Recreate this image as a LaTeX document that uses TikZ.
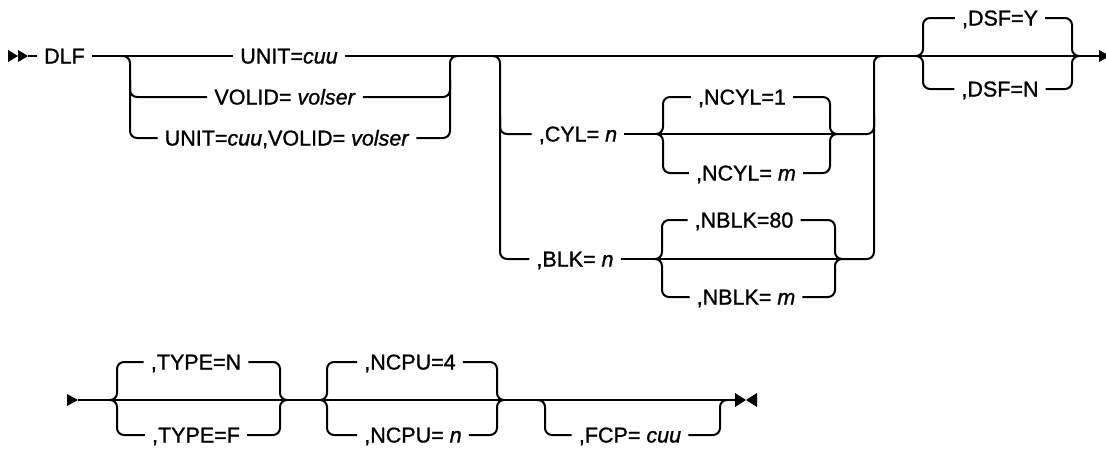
\documentclass[tikz,border=0pt]{standalone}
\usepackage{fontspec}
\setmainfont{Liberation Sans}[FakeBold=1.1]
\usetikzlibrary{calc}

\tikzset{
  rail/.style={line width=2pt, rounded corners=7pt},
  kw/.style={inner xsep=7pt, inner ysep=0pt, text height=15pt, text depth=0pt,
    font=\fontsize{21.5}{25}\selectfont},
}

\begin{document}
\begin{tikzpicture}[x=1pt, y=-1pt]
  \clip (0,0) rectangle (1106,448);

  % \optfork{left cusp}{right cusp}{upper option}{lower option}
  % a curly choice: empty path through the middle, one option above, one below
  \newcommand{\optfork}[4]{%
    \draw[rail] (#1) -- (#2);
    \draw[rail] (#1) -- ++(7,0) |- (#3.west);
    \draw[rail] (#1) -- ++(7,0) |- (#4.west);
    \draw[rail] (#2) -- ++(-7,0) |- (#3.east);
    \draw[rail] (#2) -- ++(-7,0) |- (#4.east);
  }

  % ---------- first line ----------
  \fill (8,50) -- (18,56) -- (8,62) -- cycle;
  \fill (18,50) -- (28,56) -- (18,62) -- cycle;
  \coordinate (begin) at (28,56);
  \node[kw] (dlf) at (64.5,56) {DLF};

  \node[kw] (unit) at (289,56) {UNIT=\textit{cuu}};
  \node[kw] (volid) at (285,97) {VOLID= \textit{volser}};
  \node[kw] (both) at (287,138) {UNIT=\textit{cuu},VOLID= \textit{volser}};

  \draw[rail] (begin) -- (dlf.west);
  \draw[rail] (dlf.east) -- (unit.west);
  \draw[rail] (unit.east) -- (1100,56);
  \draw[rail] (122,56) -| (130,138) -- (both.west);
  \draw[rail] (130,80) |- (volid.west);
  \draw[rail] (both.east) -| (450,56) -- (458,56);
  \draw[rail] (volid.east) -| (450,80);

  % CYL / BLK
  \node[kw] (cyl) at (578,134) {,CYL= \textit{n}};
  \node[kw] (blk) at (575,259) {,BLK= \textit{n}};
  \draw[rail] (492,56) -| (500,259) -- (blk.west);
  \draw[rail] (500,115) |- (cyl.west);

  \coordinate (cylL) at (656,134);
  \coordinate (cylR) at (837,134);
  \node[kw] (ncyl1) at (742,97) {,NCYL=1};
  \node[kw] (ncylm) at (746,173) {,NCYL= \textit{m}};
  \draw[rail] (cyl.east) -- (cylL);
  \optfork{cylL}{cylR}{ncyl1}{ncylm}
  \draw[rail] (cylR) -| (874,115);

  \coordinate (blkL) at (655,259);
  \coordinate (blkR) at (842,259);
  \node[kw] (nblk80) at (744,220) {,NBLK=80};
  \node[kw] (nblkm) at (746,297) {,NBLK= \textit{m}};
  \draw[rail] (blk.east) -- (blkL);
  \optfork{blkL}{blkR}{nblk80}{nblkm}
  \draw[rail] (blkR) -| (874,56) -- (882,56);

  % DSF
  \coordinate (dsfL) at (916,56);
  \coordinate (dsfR) at (1079,56);
  \node[kw] (dsfy) at (1000,18) {,DSF=Y};
  \node[kw] (dsfn) at (1000,89) {,DSF=N};
  \optfork{dsfL}{dsfR}{dsfy}{dsfn}
  \fill (1099,50) -- (1110,56) -- (1099,62) -- cycle;

  % ---------- second line ----------
  \fill (67,394) -- (78,400) -- (67,406) -- cycle;
  \coordinate (resume) at (78,400);

  \coordinate (typeL) at (110,400);
  \coordinate (typeR) at (287,400);
  \node[kw] (typen) at (196,362) {,TYPE=N};
  \node[kw] (typef) at (196,435) {,TYPE=F};
  \draw[rail] (resume) -- (typeL);
  \optfork{typeL}{typeR}{typen}{typef}

  \coordinate (ncpuL) at (320,400);
  \coordinate (ncpuR) at (504,400);
  \node[kw] (ncpu4) at (410,362) {,NCPU=4};
  \node[kw] (ncpun) at (413,435) {,NCPU= \textit{n}};
  \draw[rail] (typeR) -- (ncpuL);
  \optfork{ncpuL}{ncpuR}{ncpu4}{ncpun}

  \coordinate (finish) at (735,400);
  \node[kw] (fcp) at (630,435) {,FCP= \textit{cuu}};
  \draw[rail] (ncpuR) -- (finish);
  \draw[rail] (537,400) -| (545,435) -- (fcp.west);
  \draw[rail] (fcp.east) -| (720,400) -- (728,400);
  \fill (735,393) -- (746,400) -- (735,407) -- cycle;
  \fill (757,393) -- (746,400) -- (757,407) -- cycle;
\end{tikzpicture}
\end{document}
